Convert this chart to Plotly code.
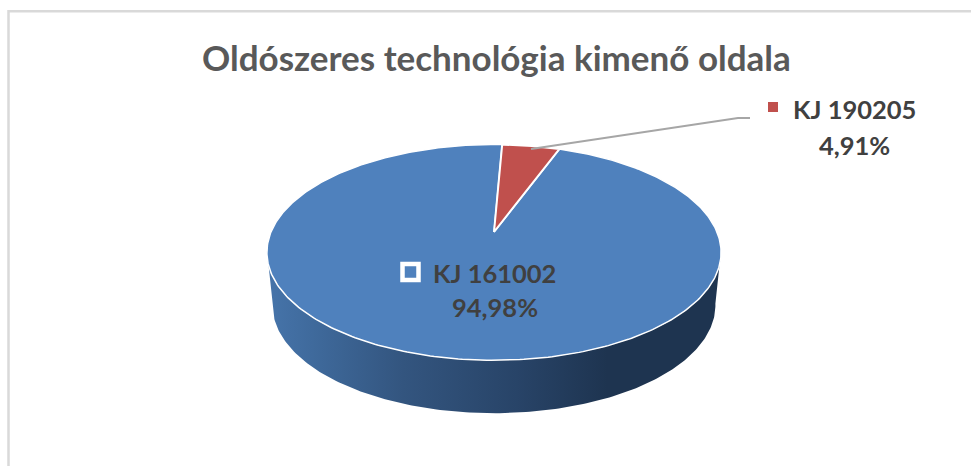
import numpy as np
import plotly.graph_objects as go

# ---- data ----
title_text = "Oldószeres technológia kimenő oldala"
names = ["KJ 161002", "KJ 190205"]
shares = [94.98, 4.91]
colors = ["#4f81bd", "#c0504d"]

W, H = 971, 466
cx, ay = 494.0, 232.0      # pixel of pie centre (perspective vanishing)
sx, sy, k = 223.0, 104.0, 0.189
depth = 53.0
start_deg = 2.5            # clockwise angle from the top where the red slice begins


def project(theta_deg):
    t = np.radians(theta_deg)
    X, Y = np.sin(t), np.cos(t)
    d = 1 + k * Y
    return cx + sx * X / d, ay - sy * Y / d


red_span = shares[1] / 100 * 360
red_t = np.linspace(start_deg, start_deg + red_span, 30)
blue_t = np.linspace(start_deg + red_span, start_deg + 360, 400)

fig = go.Figure()

# frame: left and top only, the picture is cropped on the other sides
fig.add_trace(go.Scatter(x=[8.5, 8.5, W], y=[H, 11.2, 11.2], mode="lines",
                         line=dict(color="#d9d9d9", width=2.5), hoverinfo="skip"))

# side wall: from the widest point of the top face round the front
front = np.linspace(100, 260, 200)
tx, ty = project(front)
bx = cx + (tx - cx) * 0.975
by = ty + depth
wall_x = np.concatenate([tx, bx[::-1]])
wall_y = np.concatenate([ty, by[::-1]])
fig.add_trace(go.Scatter(
    x=wall_x, y=wall_y, mode="lines", fill="toself",
    line=dict(width=0), hoverinfo="skip",
    fillgradient=dict(type="horizontal", colorscale=[
        [0.0, "#4674aa"], [0.1, "#3f6a9c"], [0.3, "#33557f"],
        [0.55, "#284468"], [0.75, "#1e3450"], [1.0, "#1e3450"]]),
))

# top faces
bx0, by0 = project(blue_t)
fig.add_trace(go.Scatter(
    x=np.r_[cx, bx0, cx], y=np.r_[ay, by0, ay], mode="lines", fill="toself",
    fillcolor=colors[0], line=dict(color="#ffffff", width=1.5), hoverinfo="skip"))
rx0, ry0 = project(red_t)
fig.add_trace(go.Scatter(
    x=np.r_[cx, rx0, cx], y=np.r_[ay, ry0, ay], mode="lines", fill="toself",
    fillcolor=colors[1], line=dict(color="#ffffff", width=2), hoverinfo="skip"))

# leader line for the small slice
lx, ly = project(start_deg + red_span / 2)
fig.add_trace(go.Scatter(x=[lx, 738, 750], y=[ly + 3, 118, 118], mode="lines",
                         line=dict(color="#a6a6a6", width=2), hoverinfo="skip"))

# legend keys
fig.add_trace(go.Scatter(x=[410.5], y=[272], mode="markers", hoverinfo="skip",
                         marker=dict(symbol="square", size=16, color=colors[0],
                                     line=dict(color="#ffffff", width=4.5))))
fig.add_trace(go.Scatter(x=[773], y=[107], mode="markers", hoverinfo="skip",
                         marker=dict(symbol="square", size=10, color=colors[1],
                                     line=dict(width=0))))


def fmt(v):
    return f"{v:.2f}".replace(".", ",") + "%"


font = dict(family="Lato", size=25.5, color="#404040", weight="bold")
label_pos = [(494.5, 273, 307), (854.5, 109, 145)]
for name, share, (x, y1, y2) in zip(names, shares, label_pos):
    fig.add_annotation(x=x, y=y1, text=name, showarrow=False, font=font,
                       xanchor="center", yanchor="middle")
    fig.add_annotation(x=x, y=y2, text=fmt(share), showarrow=False, font=font,
                       xanchor="center", yanchor="middle")

fig.add_annotation(x=496, y=57, text=title_text, showarrow=False,
                   font=dict(family="Lato", size=35, color="#595959", weight="bold"),
                   xanchor="center", yanchor="middle")

fig.update_layout(
    width=W, height=H, margin=dict(l=0, r=0, t=0, b=0),
    paper_bgcolor="#ffffff", plot_bgcolor="#ffffff", showlegend=False,
    xaxis=dict(range=[0, W], visible=False, fixedrange=True),
    yaxis=dict(range=[H, 0], visible=False, fixedrange=True),
)
fig.write_html("out.html", config=dict(displayModeBar=False),
               post_script="document.body.style.margin='0';document.body.style.overflow='hidden';")
